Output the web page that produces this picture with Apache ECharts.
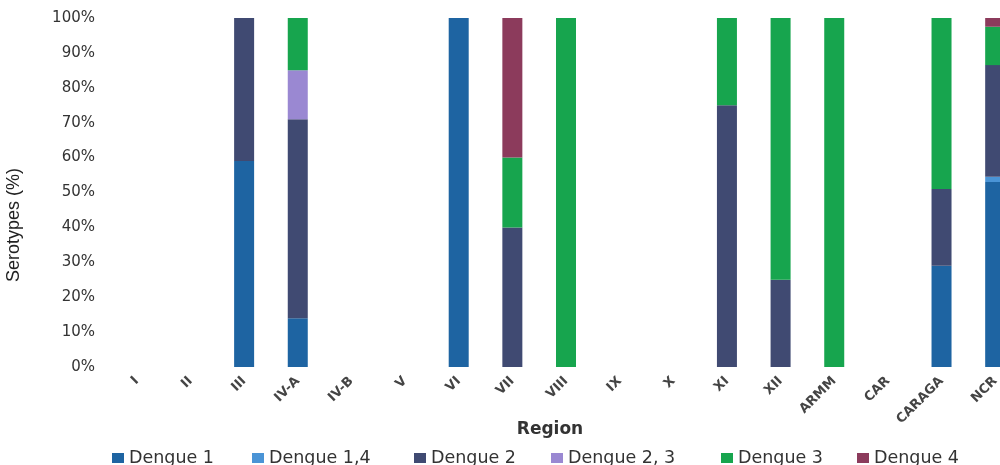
<!DOCTYPE html>
<html><head><meta charset="utf-8">
<script src="https://cdn.jsdelivr.net/npm/echarts@6/dist/echarts.min.js"></script>
<style>html,body{margin:0;padding:0;background:#fff;overflow:hidden}#c{width:1022px;height:465px}</style>
</head><body><div id="c"></div>
<script>
const categories = ['I','II','III','IV-A','IV-B','V','VI','VII','VIII','IX','X','XI','XII','ARMM','CAR','CARAGA','NCR'];
const yTickLabels = ['0%','10%','20%','30%','40%','50%','60%','70%','80%','90%','100%'];
const dengue1  = [null,null,59,14,null,null,100,null,null,null,null,null,null,null,null,29,53];
const dengue14 = [null,null,null,null,null,null,null,null,null,null,null,null,null,null,null,null,1.5];
const dengue2  = [null,null,41,57,null,null,null,40,null,null,null,75,25,null,null,22,32];
const dengue23 = [null,null,null,14,null,null,null,null,null,null,null,null,null,null,null,null,null];
const dengue3  = [null,null,null,15,null,null,null,20,100,null,null,25,75,100,null,49,11];
const dengue4  = [null,null,null,null,null,null,null,40,null,null,null,null,null,null,null,null,2.5];
const seriesNames = ['Dengue 1','Dengue 1,4','Dengue 2','Dengue 2, 3','Dengue 3','Dengue 4'];
const seriesData = [dengue1, dengue14, dengue2, dengue23, dengue3, dengue4];
const colors = ['#1e64a2','#4a94d6','#404a72','#9a88d2','#17a54e','#8c3b5c'];
const legendLefts = [107, 247, 409, 546, 716, 852];

const chart = echarts.init(document.getElementById('c'));
chart.setOption({
  animation:false,
  backgroundColor:'#fff',
  color: colors,
  title:{text:'Region', left:545, top:416, textAlign:'center',
    textStyle:{fontFamily:'DejaVu Sans', fontSize:17, fontWeight:'bold', color:'#333'}},
  graphic:[{type:'text', x:14, y:225, rotation:Math.PI/2,
    style:{text:'Serotypes (%)', fill:'#222', font:'18px "Liberation Sans Narrow", "Liberation Sans"',
      textAlign:'center', textVerticalAlign:'middle'}}],
  grid:{left:110, top:18, right:0, height:349},
  legend: seriesNames.map((n,i)=>({left:legendLefts[i], top:444, itemWidth:12, itemHeight:10, icon:'rect',
    textStyle:{fontFamily:'DejaVu Sans', fontSize:17.5, color:'#333'}, data:[n]})),
  xAxis:{type:'category', data:categories,
    axisLine:{show:false}, axisTick:{show:false},
    axisLabel:{rotate:45, interval:0, margin:12, fontFamily:'DejaVu Sans', fontSize:13, fontWeight:'bold', color:'#444'}},
  yAxis:{type:'value', min:0, max:100, interval:10,
    splitLine:{show:false}, axisLine:{show:false}, axisTick:{show:false},
    axisLabel:{margin:15, fontFamily:'DejaVu Sans', fontSize:15, color:'#333',
      formatter:(v)=>yTickLabels[Math.round(v/10)]}},
  series: seriesNames.map((n,i)=>({
    name:n, type:'bar', stack:'total', barWidth:20, data:seriesData[i]
  }))
});
</script></body></html>
